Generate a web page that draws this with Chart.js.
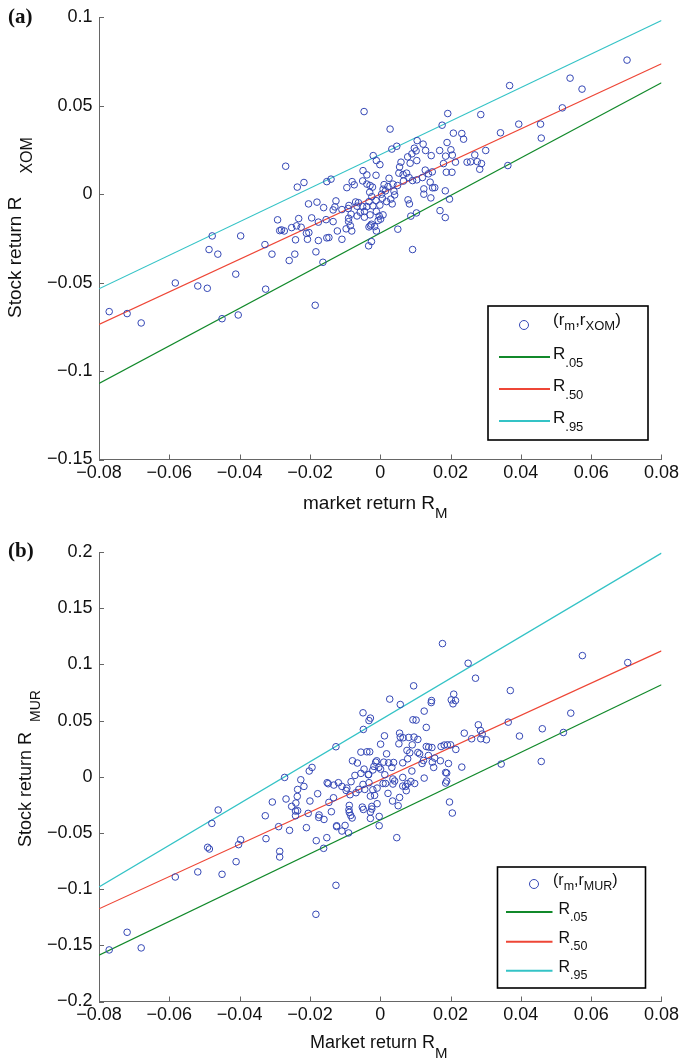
<!DOCTYPE html>
<html>
<head>
<meta charset="utf-8">
<title>Stock vs market returns</title>
<script src="https://cdn.jsdelivr.net/npm/chart.js@4.4.1/dist/chart.umd.min.js"></script>
<style>
  body { margin: 0; background: #fff; }
  #wrap { position: relative; width: 682px; height: 1063px; }
  canvas { position: absolute; left: 0; }
  #chartA { top: 0; }
  #chartB { top: 530px; }
</style>
</head>
<body>
<div id="wrap">
  <canvas id="chartA" width="682" height="530"></canvas>
  <canvas id="chartB" width="682" height="533"></canvas>
</div>
<script>
// axis ticks
const xTicks = [-0.08, -0.06, -0.04, -0.02, 0, 0.02, 0.04, 0.06, 0.08]
const yTicksXom = [-0.15, -0.1, -0.05, 0, 0.05, 0.1]
const yTicksMur = [-0.2, -0.15, -0.1, -0.05, 0, 0.05, 0.1, 0.15, 0.2]

// quantile lines, value at each end of the x range
const lineX = [-0.08, 0.08]
const xomQ05 = [-0.107, 0.063]
const xomQ50 = [-0.0736, 0.0737]
const xomQ95 = [-0.0535, 0.0982]
const murQ05 = [-0.1587, 0.0818]
const murQ50 = [-0.1175, 0.112]
const murQ95 = [-0.098, 0.199]

// daily returns (r_m, r_XOM)
const xomPoints = [
  [-0.0292,-0.0145],[-0.0286,-0.0206],[-0.0478,-0.0236],[-0.0397,-0.0236],[-0.0487,-0.0313],
  [-0.0462,-0.0339],[-0.0328,-0.0285],[-0.0308,-0.0339],[-0.0411,-0.0452],[-0.0583,-0.0502],
  [-0.0519,-0.0519],[-0.0492,-0.0532],[-0.0326,-0.0537],[-0.0771,-0.0664],[-0.0720,-0.0675],
  [-0.0680,-0.0728],[-0.0450,-0.0704],[-0.0404,-0.0683],
  [-0.0046,0.0467],[0.0192,0.0456],[0.0028,0.0368],[0.0176,0.0390],[0.0208,0.0345],
  [-0.0269,0.0158],[0.0033,0.0255],[0.0047,0.0271],[-0.0020,0.0218],[-0.0011,0.0190],
  [-0.0001,0.0167],[0.0105,0.0303],[0.0122,0.0283],[0.0097,0.0260],[0.0102,0.0245],
  [0.0090,0.0228],[0.0078,0.0211],[0.0129,0.0247],[0.0145,0.0218],[0.0169,0.0247],
  [0.0190,0.0292],[0.0201,0.0251],[0.0186,0.0215],[0.0205,0.0221],[0.0214,0.0181],
  [0.0180,0.0173],[0.0188,0.0124],[0.0204,0.0124],[0.0059,0.0181],[0.0055,0.0154],
  [0.0085,0.0175],[0.0104,0.0190],[-0.0049,0.0133],[-0.0038,0.0109],[-0.0012,0.0107],
  [0.0053,0.0119],[0.0065,0.0111],[0.0075,0.0119],[0.0082,0.0094],[0.0092,0.0077],
  [0.0104,0.0081],[0.0128,0.0136],[0.0137,0.0115],[0.0148,0.0126],[0.0120,0.0094],
  [0.0142,0.0068],[0.0124,0.0030],[0.0149,0.0036],[0.0155,0.0037],[0.0124,0.0000],
  [0.0144,-0.0021],[0.0185,0.0019],[0.0197,-0.0028],[0.0170,-0.0093],[0.0185,-0.0132],
  [0.0087,-0.0124],[0.0103,-0.0106],[0.0079,-0.0032],[0.0083,-0.0055],[0.0092,-0.0313],
  [0.0050,-0.0198],[0.0025,0.0090],[0.0011,0.0054],[0.0022,0.0043],[0.0036,0.0057],
  [0.0041,-0.0004],[0.0030,-0.0028],[0.0034,-0.0055],[0.0018,-0.0042],[0.0006,-0.0023],
  [-0.0001,-0.0062],[0.0015,0.0019],[0.0008,0.0028],[-0.0029,0.0049],[-0.0022,0.0040],
  [-0.0050,0.0075],[-0.0080,0.0071],[-0.0074,0.0053],[-0.0095,0.0037],[-0.0030,0.0011],
  [-0.0024,-0.0014],[-0.0012,-0.0036],[-0.0032,-0.0042],[-0.0021,-0.0066],[-0.0038,-0.0070],
  [-0.0050,-0.0070],[-0.0062,-0.0048],[-0.0070,-0.0044],[-0.0066,-0.0068],[-0.0089,-0.0064],
  [-0.0091,-0.0081],[-0.0083,-0.0113],[-0.0090,-0.0136],[-0.0090,-0.0155],[-0.0085,-0.0178],
  [-0.0066,-0.0123],[-0.0057,-0.0102],[-0.0045,-0.0098],[-0.0045,-0.0130],[-0.0029,-0.0117],
  [-0.0011,-0.0098],[-0.0003,-0.0124],[0.0001,-0.0141],[-0.0006,-0.0149],[0.0008,-0.0117],
  [-0.0028,-0.0178],[-0.0025,-0.0170],[-0.0032,-0.0185],[-0.0011,-0.0208],[-0.0016,-0.0183],
  [-0.0033,-0.0292],[-0.0025,-0.0268],[-0.0081,-0.0208],[-0.0097,-0.0196],[-0.0109,-0.0255],
  [-0.0122,-0.0208],[-0.0134,-0.0155],[-0.0134,-0.0089],[-0.0129,-0.0072],[-0.0126,-0.0038],
  [-0.0109,-0.0087],[-0.0161,-0.0076],[-0.0180,-0.0045],[-0.0204,-0.0055],[-0.0195,-0.0134],
  [-0.0176,-0.0158],[-0.0154,-0.0144],[-0.0232,-0.0138],[-0.0252,-0.0189],[-0.0238,-0.0179],
  [-0.0225,-0.0187],[-0.0210,-0.0221],[-0.0203,-0.0217],[-0.0241,-0.0258],[-0.0207,-0.0255],
  [-0.0176,-0.0262],[-0.0152,-0.0247],[-0.0146,-0.0245],[-0.0273,-0.0208],[-0.0281,-0.0202],
  [-0.0243,-0.0339],[-0.0259,-0.0375],[-0.0183,-0.0326],[-0.0163,-0.0385],[-0.0185,-0.0628],
  [-0.0236,0.0040],[-0.0217,0.0066],[-0.0152,0.0071],[-0.0140,0.0085],[0.0066,0.0074],
  [0.0039,0.0017],[0.0049,0.0049],[-0.0038,0.0057],[0.0004,0.0000],
  [0.0702,0.0758],[0.0368,0.0614],[0.0540,0.0656],[0.0574,0.0594],[0.0518,0.0488],
  [0.0286,0.0450],[0.0394,0.0396],[0.0456,0.0396],[0.0342,0.0347],[0.0458,0.0317],
  [0.0232,0.0343],[0.0237,0.0311],[0.0300,0.0247],[0.0269,0.0222],[0.0247,0.0181],
  [0.0257,0.0183],[0.0276,0.0184],[0.0288,0.0173],[0.0283,0.0141],[0.0363,0.0162]
]

// daily returns (r_m, r_MUR)
const murPoints = [
  [-0.0771,-0.1541],[-0.0720,-0.1384],[-0.0680,-0.1523],[-0.0583,-0.0892],[-0.0519,-0.0847],
  [-0.0450,-0.0868],[-0.0410,-0.0756],[-0.0491,-0.0628],[-0.0486,-0.0643],[-0.0479,-0.0415],
  [-0.0461,-0.0296],[-0.0403,-0.0604],[-0.0397,-0.0560],[-0.0327,-0.0347],[-0.0307,-0.0225],
  [-0.0325,-0.0551],[-0.0289,-0.0444],[-0.0286,-0.0664],[-0.0286,-0.0714],
  [0.0177,0.1185],[0.0095,0.0809],[0.0027,0.0691],[0.0057,0.0643],[-0.0049,0.0569],
  [-0.0032,0.0500],[-0.0028,0.0522],[-0.0048,0.0421],[-0.0126,0.0267],[-0.0272,-0.0006],
  [-0.0202,0.0051],[-0.0194,0.0083],[0.0209,0.0735],[0.0146,0.0678],[0.0145,0.0660],
  [0.0202,0.0684],[0.0207,0.0649],[0.0214,0.0678],[0.0125,0.0584],[0.0093,0.0507],
  [0.0102,0.0504],[0.0131,0.0439],[0.0012,0.0364],[0.0055,0.0388],[0.0057,0.0353],
  [0.0065,0.0347],[0.0053,0.0293],[0.0081,0.0350],[0.0096,0.0353],[0.0107,0.0332],
  [0.0091,0.0284],[0.0001,0.0290],[0.0076,0.0234],[0.0084,0.0213],[0.0018,0.0204],
  [-0.0055,0.0219],[-0.0038,0.0222],[-0.0030,0.0222],[-0.0079,0.0142],[-0.0065,0.0122],
  [-0.0046,0.0068],[-0.0033,0.0020],[-0.0013,0.0130],[-0.0010,0.0142],[-0.0018,0.0092],
  [-0.0021,0.0060],[-0.0004,0.0083],[0.0010,0.0130],[0.0024,0.0124],[0.0038,0.0127],
  [0.0033,0.0083],[0.0013,0.0018],[0.0001,0.0068],[0.0064,0.0124],[0.0078,0.0160],
  [0.0107,0.0216],[0.0112,0.0204],[0.0119,0.0118],[0.0123,0.0145],[0.0131,0.0269],
  [0.0138,0.0264],[0.0147,0.0260],[0.0137,0.0189],[0.0148,0.0130],[0.0152,0.0083],
  [0.0155,0.0166],[0.0171,0.0142],[0.0173,0.0269],[0.0182,0.0282],[0.0191,0.0284],
  [0.0200,0.0284],[0.0215,0.0243],[0.0194,0.0118],[0.0186,0.0038],[0.0189,0.0033],
  [0.0189,-0.0038],[0.0186,-0.0056],[0.0197,-0.0225],[0.0205,-0.0323],[0.0125,-0.0012],
  [0.0090,0.0051],[0.0098,-0.0060],[0.0087,-0.0042],[0.0077,-0.0062],[0.0074,-0.0124],
  [0.0064,-0.0006],[0.0064,-0.0083],[0.0041,-0.0038],[0.0036,-0.0020],[0.0015,-0.0060],
  [0.0008,-0.0060],[0.0022,-0.0148],[0.0035,-0.0216],[0.0055,-0.0184],[0.0051,-0.0258],
  [0.0047,-0.0542],[-0.0032,-0.0053],[-0.0034,0.0018],[-0.0044,-0.0113],[-0.0028,-0.0172],
  [-0.0021,-0.0116],[-0.0016,-0.0166],[-0.0009,-0.0101],[-0.0009,-0.0240],[-0.0024,-0.0264],
  [-0.0028,-0.0314],[-0.0024,-0.0287],[-0.0028,-0.0371],[-0.0003,-0.0353],[-0.0003,-0.0436],
  [-0.0048,-0.0291],[-0.0061,-0.0113],[-0.0069,-0.0142],[-0.0072,0.0012],[-0.0083,-0.0044],
  [-0.0095,-0.0101],[-0.0097,-0.0122],[-0.0086,-0.0160],[-0.0088,-0.0255],[-0.0089,-0.0293],
  [-0.0088,-0.0317],[-0.0084,-0.0344],[-0.0080,-0.0367],[-0.0090,-0.0500],[-0.0100,-0.0433],
  [-0.0109,-0.0483],[-0.0124,-0.0436],[-0.0124,-0.0444],[-0.0119,-0.0053],[-0.0132,-0.0074],
  [-0.0133,-0.0187],[-0.0151,-0.0053],[-0.0148,-0.0062],[-0.0146,-0.0228],[-0.0139,-0.0311],
  [-0.0160,-0.0380],[-0.0174,-0.0340],[-0.0175,-0.0362],[-0.0178,-0.0151],[-0.0152,-0.0542],
  [-0.0161,-0.0637],[-0.0182,-0.0569],[-0.0200,-0.0216],[-0.0205,-0.0326],[-0.0210,-0.0453],
  [-0.0217,-0.0086],[-0.0226,-0.0027],[-0.0235,-0.0113],[-0.0236,-0.0175],[-0.0240,-0.0234],
  [-0.0252,-0.0264],[-0.0235,-0.0302],[-0.0241,-0.0305],[-0.0241,-0.0347],[-0.0268,-0.0198],
  [-0.0258,-0.0477],[-0.0126,-0.0966],[-0.0183,-0.1224],[-0.0109,-0.0086],[-0.0055,0.0030],
  [-0.0049,-0.0068],[0.0036,-0.0065],[0.0072,-0.0086],[-0.0051,-0.0270],
  [0.0575,0.1078],[0.0704,0.1016],[0.0250,0.1010],[0.0271,0.0877],[0.0370,0.0767],
  [0.0542,0.0566],[0.0364,0.0486],[0.0279,0.0462],[0.0285,0.0412],[0.0239,0.0388],
  [0.0290,0.0380],[0.0260,0.0338],[0.0286,0.0338],[0.0302,0.0329],[0.0396,0.0362],
  [0.0461,0.0427],[0.0521,0.0394],[0.0232,0.0086],[0.0344,0.0113],[0.0458,0.0136]
]

const FONT = '"Liberation Sans", Arial, Helvetica, sans-serif'
const blue = '#3447b5'
const green = '#11892a'
const red = '#ee4636'
const cyan = '#34c3c6'
const axisGrey = '#666'

// tick text with a real minus sign
const fmt = v => (Math.round(v * 100) / 100).toString().replace('-', '\u2212')

// text made of pieces: [text, font size, baseline shift, gap after]
function richText(ctx, parts, x, y) {
  let cx = x
  parts.forEach(p => {
    ctx.font = p[1] + 'px ' + FONT
    ctx.fillText(p[0], cx, y + (p[2] || 0))
    cx += ctx.measureText(p[0]).width + (p[3] || 0)
  })
}

const decorPlugin = {
  id: 'decor',
  afterDraw(chart, args, o) {
    const ctx = chart.ctx
    const a = chart.chartArea
    const xs = chart.scales.x
    const ys = chart.scales.y
    ctx.save()

    // inward tick marks
    ctx.strokeStyle = axisGrey
    ctx.lineWidth = 1
    ctx.beginPath()
    xs.ticks.forEach(t => {
      const px = Math.round(xs.getPixelForValue(t.value)) + 0.5
      ctx.moveTo(px, a.bottom)
      ctx.lineTo(px, a.bottom - 5)
    })
    ys.ticks.forEach(t => {
      const py = Math.round(ys.getPixelForValue(t.value)) + 0.5
      ctx.moveTo(a.left, py)
      ctx.lineTo(a.left + 5, py)
    })
    ctx.stroke()

    ctx.fillStyle = '#111'
    ctx.textAlign = 'left'
    ctx.textBaseline = 'alphabetic'

    // panel tag
    ctx.font = 'bold 21px "Liberation Serif", "Times New Roman", serif'
    ctx.fillText(o.tag, 8, o.tagY)

    // axis titles
    richText(ctx, o.xTitle, o.xTitleX, o.xTitleY)
    ctx.save()
    ctx.translate(o.yTitleX, o.yTitleY)
    ctx.rotate(-Math.PI / 2)
    richText(ctx, o.yTitle, 0, 0)
    ctx.restore()

    // legend box
    const L = o.legend
    ctx.fillStyle = '#fff'
    ctx.fillRect(L.x, L.y, L.w, L.h)
    ctx.strokeStyle = '#000'
    ctx.lineWidth = 1.6
    ctx.strokeRect(L.x, L.y, L.w, L.h)

    ctx.strokeStyle = blue
    ctx.lineWidth = 1
    ctx.beginPath()
    ctx.arc(L.markX, L.rowY[0], 4.5, 0, Math.PI * 2)
    ctx.stroke()
    ctx.fillStyle = '#111'
    richText(ctx, L.scatterLabel, L.scatterX, L.rowY[0] + L.scatterDy)

    chart.data.datasets.slice(1).forEach((ds, i) => {
      const ly = L.rowY[i + 1]
      ctx.strokeStyle = ds.borderColor
      ctx.lineWidth = 2
      ctx.beginPath()
      ctx.moveTo(L.lineX0, ly)
      ctx.lineTo(L.lineX1, ly)
      ctx.stroke()
      richText(ctx, [['R', L.font], [ds.label, L.sub, L.subDy]], L.rX, ly + 1.5)
    })
    ctx.restore()
  }
}

function makeChart(id, points, q05, q50, q95, yTicks, fit, decor) {
  const lineSet = (label, q, color) => ({
    type: 'line',
    label: label,
    data: lineX.map((x, i) => ({ x: x, y: q[i] })),
    borderColor: color,
    borderWidth: 1.2,
    pointRadius: 0,
    fill: false
  })
  return new Chart(document.getElementById(id), {
    type: 'scatter',
    data: {
      datasets: [
        {
          label: 'returns',
          data: points.map(p => ({ x: p[0], y: p[1] })),
          borderColor: blue,
          backgroundColor: 'rgba(0,0,0,0)',
          borderWidth: 1,
          pointRadius: 3.3
        },
        lineSet('.05', q05, green),
        lineSet('.50', q50, red),
        lineSet('.95', q95, cyan)
      ]
    },
    options: {
      responsive: false,
      animation: false,
      events: [],
      layout: { padding: { top: fit.top, right: 20, left: 0, bottom: 0 } },
      plugins: {
        legend: { display: false },
        tooltip: { enabled: false },
        decor: decor
      },
      scales: {
        x: {
          type: 'linear',
          min: -0.08,
          max: 0.08,
          afterBuildTicks: s => { s.ticks = xTicks.map(v => ({ value: v })) },
          afterFit: s => { s.height = fit.xh },
          grid: { display: false, drawTicks: false },
          border: { display: true, color: axisGrey, width: 1 },
          ticks: { callback: fmt, font: { family: FONT, size: 18 }, color: '#111', padding: 3, maxRotation: 0, autoSkip: false }
        },
        y: {
          type: 'linear',
          min: yTicks[0],
          max: yTicks[yTicks.length - 1],
          afterBuildTicks: s => { s.ticks = yTicks.map(v => ({ value: v })) },
          afterFit: s => { s.width = 99 },
          grid: { display: false, drawTicks: false },
          border: { display: true, color: axisGrey, width: 1 },
          ticks: { callback: fmt, font: { family: FONT, size: 18 }, color: '#111', padding: 6.5, autoSkip: false }
        }
      }
    },
    plugins: [decorPlugin]
  })
}

makeChart('chartA', xomPoints, xomQ05, xomQ50, xomQ95, yTicksXom, { top: 17, xh: 70.5 }, {
  tag: '(a)', tagY: 23,
  xTitle: [['market return R', 19], ['M', 15, 9]], xTitleX: 303, xTitleY: 509,
  yTitle: [['Stock return R', 19, 0, 23], ['XOM', 16, 11]], yTitleX: 21, yTitleY: 318,
  legend: {
    x: 488, y: 306, w: 160, h: 134,
    markX: 524, rowY: [325, 357, 389, 421],
    scatterX: 553, scatterDy: 0,
    scatterLabel: [['(r', 17], ['m', 13, 5], [',r', 17], ['XOM', 13, 5], [')', 17]],
    lineX0: 499, lineX1: 550, rX: 553, font: 17, sub: 13, subDy: 8
  }
})

makeChart('chartB', murPoints, murQ05, murQ50, murQ95, yTicksMur, { top: 22, xh: 61.5 }, {
  tag: '(b)', tagY: 27,
  xTitle: [['Market return R', 18], ['M', 15, 10]], xTitleX: 310, xTitleY: 518,
  yTitle: [['Stock return R', 18, 0, 10], ['MUR', 14, 9]], yTitleX: 31, yTitleY: 317,
  legend: {
    x: 497.5, y: 337, w: 148, h: 121,
    markX: 534, rowY: [354, 382, 411.7, 440.7],
    scatterX: 553, scatterDy: 1,
    scatterLabel: [['(r', 16], ['m', 12.5, 5], [',r', 16], ['MUR', 12.5, 5], [')', 16]],
    lineX0: 506, lineX1: 552.5, rX: 558.5, font: 16, sub: 12.5, subDy: 7
  }
})
</script>
</body>
</html>
